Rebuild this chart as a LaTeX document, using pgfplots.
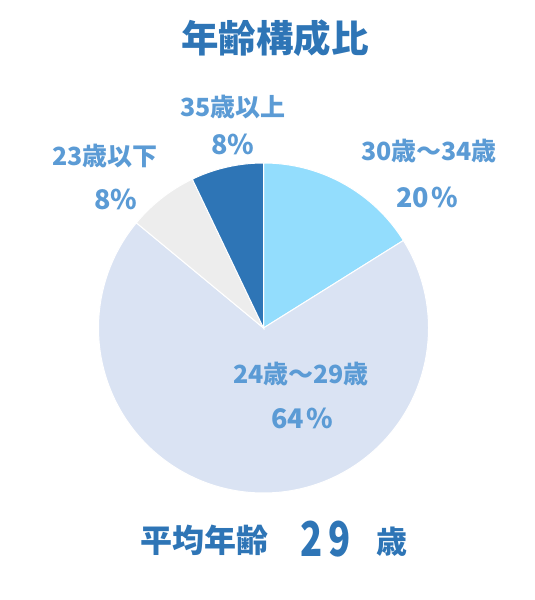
\documentclass[border=0pt]{standalone}
\usepackage{pgfplots}
\pgfplotsset{compat=1.18}
\usepackage{fontspec}
\setmainfont{Noto Sans CJK JP}
\definecolor{titleblue}{HTML}{2E75B6}
\definecolor{labelblue}{HTML}{5B9BD5}
\definecolor{cA}{HTML}{93DDFD}
\definecolor{cB}{HTML}{DAE3F3}
\definecolor{cC}{HTML}{EDEDED}
\definecolor{cD}{HTML}{2E75B6}
% shares of the pie as drawn (percent), clockwise from the top
\def\sA{16.1}% 30-34
\def\sB{69.9}% 24-29
\def\sC{6.9}%  23 and below
\def\sD{7.1}%  35 and above
\pgfmathsetmacro\aA{90-3.6*\sA}
\pgfmathsetmacro\aB{\aA-3.6*\sB}
\pgfmathsetmacro\aC{\aB-3.6*\sC}
\pgfmathsetmacro\aD{\aC-3.6*\sD}
\def\cx{263.5}\def\cy{272}\def\rr{165}
\newcommand\fs[1]{\fontsize{#1bp}{#1bp}\selectfont\bfseries}
\begin{document}
\begin{tikzpicture}
\begin{axis}[
  width=534bp, height=600bp, scale only axis,
  xmin=0, xmax=534, ymin=0, ymax=600,
  hide axis, clip=false,
]
\path[use as bounding box] (axis cs:0,0) rectangle (axis cs:534,600);
\addplot[fill=cA, draw=white, line width=1bp, domain=\aA:90, samples=80, variable=\t]
  ({\cx+\rr*cos(\t)},{\cy+\rr*sin(\t)}) -- (axis cs:\cx,\cy) -- cycle;
\addplot[fill=cB, draw=white, line width=1bp, domain=\aB:\aA, samples=240, variable=\t]
  ({\cx+\rr*cos(\t)},{\cy+\rr*sin(\t)}) -- (axis cs:\cx,\cy) -- cycle;
\addplot[fill=cC, draw=white, line width=1bp, domain=\aC:\aB, samples=40, variable=\t]
  ({\cx+\rr*cos(\t)},{\cy+\rr*sin(\t)}) -- (axis cs:\cx,\cy) -- cycle;
\addplot[fill=cD, draw=white, line width=1bp, domain=\aD:\aC, samples=40, variable=\t]
  ({\cx+\rr*cos(\t)},{\cy+\rr*sin(\t)}) -- (axis cs:\cx,\cy) -- cycle;

\node[text=titleblue, font=\fs{37.5}] at (axis cs:275,562) {年齢構成比};

\node[text=labelblue, font=\fs{25}] at (axis cs:233,492.5) {35歳以上};
\node[text=labelblue, font=\fs{27}] at (axis cs:233,456) {8\%};
\node[text=labelblue, font=\fs{25}] at (axis cs:105,443.5) {23歳以下};
\node[text=labelblue, font=\fs{27}] at (axis cs:116,401) {8\%};
\node[text=labelblue, font=\fs{25}] at (axis cs:429,449) {30歳～34歳};
\node[text=labelblue, font=\fs{27}] at (axis cs:427,403) {20\hspace{2bp}\%};
\node[text=labelblue, font=\fs{25}] at (axis cs:301,225.5) {24歳～29歳};
\node[text=labelblue, font=\fs{27}] at (axis cs:302,182) {64\hspace{2bp}\%};

\node[text=titleblue, font=\fs{32}] at (axis cs:204,60) {平均年齢};
\node[text=titleblue, font=\fs{48}] at (axis cs:311.7,61) {\scalebox{0.76}[1]{2}};
\node[text=titleblue, font=\fs{48}] at (axis cs:340,61) {\scalebox{0.76}[1]{9}};
\node[text=titleblue, font=\fs{31}] at (axis cs:391.7,58.5) {歳};
\end{axis}
\end{tikzpicture}
\end{document}
